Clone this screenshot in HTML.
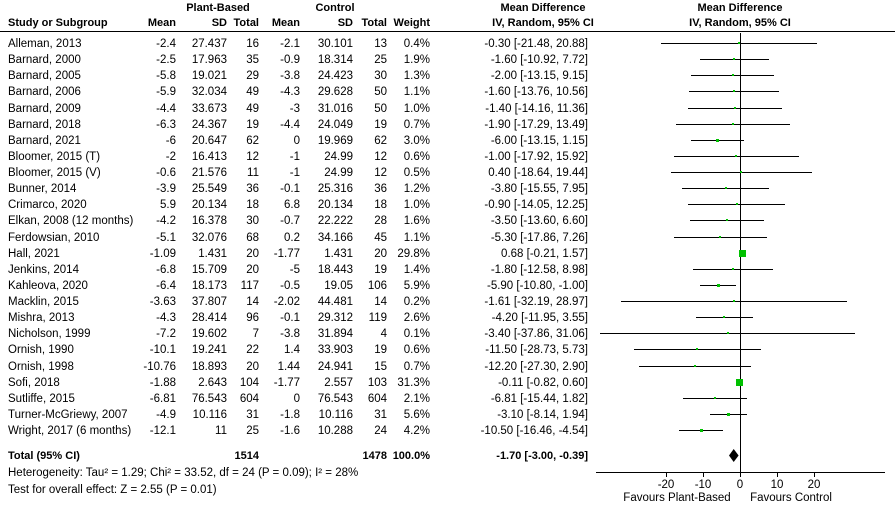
<!DOCTYPE html>
<html><head><meta charset="utf-8"><style>
html,body{margin:0;padding:0;background:#fff;}
svg{display:block;font-family:"Liberation Sans",Arial,sans-serif;font-size:11.5px;fill:#000;}
.b{font-weight:bold;font-size:11px;}
.r text{text-anchor:end;}
</style></head><body>
<svg width="895" height="512" viewBox="0 0 895 512" xmlns="http://www.w3.org/2000/svg">
<g class="b">
<text x="218" y="11" text-anchor="middle">Plant-Based</text>
<text x="335" y="11" text-anchor="middle">Control</text>
<text x="543" y="11" text-anchor="middle">Mean Difference</text>
<text x="740" y="11" text-anchor="middle">Mean Difference</text>
<text x="8" y="26">Study or Subgroup</text>
<text x="176" y="26" text-anchor="end">Mean</text>
<text x="227" y="26" text-anchor="end">SD</text>
<text x="259" y="26" text-anchor="end">Total</text>
<text x="300" y="26" text-anchor="end">Mean</text>
<text x="353" y="26" text-anchor="end">SD</text>
<text x="387" y="26" text-anchor="end">Total</text>
<text x="430" y="26" text-anchor="end">Weight</text>
<text x="543" y="26" text-anchor="middle">IV, Random, 95% CI</text>
<text x="740" y="26" text-anchor="middle">IV, Random, 95% CI</text>
</g>
<line x1="0" y1="31.5" x2="895" y2="31.5" stroke="#000" stroke-width="1"/>
<line x1="740.5" y1="33" x2="740.5" y2="472" stroke="#000"/>

<g id="names">
<text x="8" y="47">Alleman, 2013</text>
<text x="8" y="63">Barnard, 2000</text>
<text x="8" y="79">Barnard, 2005</text>
<text x="8" y="95">Barnard, 2006</text>
<text x="8" y="112">Barnard, 2009</text>
<text x="8" y="128">Barnard, 2018</text>
<text x="8" y="144">Barnard, 2021</text>
<text x="8" y="160">Bloomer, 2015 (T)</text>
<text x="8" y="176">Bloomer, 2015 (V)</text>
<text x="8" y="192">Bunner, 2014</text>
<text x="8" y="208">Crimarco, 2020</text>
<text x="8" y="224">Elkan, 2008 (12 months)</text>
<text x="8" y="241">Ferdowsian, 2010</text>
<text x="8" y="257">Hall, 2021</text>
<text x="8" y="273">Jenkins, 2014</text>
<text x="8" y="289">Kahleova, 2020</text>
<text x="8" y="305">Macklin, 2015</text>
<text x="8" y="321">Mishra, 2013</text>
<text x="8" y="337">Nicholson, 1999</text>
<text x="8" y="353">Ornish, 1990</text>
<text x="8" y="370">Ornish, 1998</text>
<text x="8" y="386">Sofi, 2018</text>
<text x="8" y="402">Sutliffe, 2015</text>
<text x="8" y="418">Turner-McGriewy, 2007</text>
<text x="8" y="434">Wright, 2017 (6 months)</text>
</g>
<g class="r">
<text x="176" y="47">-2.4</text><text x="176" y="63">-2.5</text><text x="176" y="79">-5.8</text><text x="176" y="95">-5.9</text><text x="176" y="112">-4.4</text><text x="176" y="128">-6.3</text><text x="176" y="144">-6</text><text x="176" y="160">-2</text><text x="176" y="176">-0.6</text><text x="176" y="192">-3.9</text><text x="176" y="208">5.9</text><text x="176" y="224">-4.2</text><text x="176" y="241">-5.1</text><text x="176" y="257">-1.09</text><text x="176" y="273">-6.8</text><text x="176" y="289">-6.4</text><text x="176" y="305">-3.63</text><text x="176" y="321">-4.3</text><text x="176" y="337">-7.2</text><text x="176" y="353">-10.1</text><text x="176" y="370">-10.76</text><text x="176" y="386">-1.88</text><text x="176" y="402">-6.81</text><text x="176" y="418">-4.9</text><text x="176" y="434">-12.1</text>
<text x="227" y="47">27.437</text><text x="227" y="63">17.963</text><text x="227" y="79">19.021</text><text x="227" y="95">32.034</text><text x="227" y="112">33.673</text><text x="227" y="128">24.367</text><text x="227" y="144">20.647</text><text x="227" y="160">16.413</text><text x="227" y="176">21.576</text><text x="227" y="192">25.549</text><text x="227" y="208">20.134</text><text x="227" y="224">16.378</text><text x="227" y="241">32.076</text><text x="227" y="257">1.431</text><text x="227" y="273">15.709</text><text x="227" y="289">18.173</text><text x="227" y="305">37.807</text><text x="227" y="321">28.414</text><text x="227" y="337">19.602</text><text x="227" y="353">19.241</text><text x="227" y="370">18.893</text><text x="227" y="386">2.643</text><text x="227" y="402">76.543</text><text x="227" y="418">10.116</text><text x="227" y="434">11</text>
<text x="259" y="47">16</text><text x="259" y="63">35</text><text x="259" y="79">29</text><text x="259" y="95">49</text><text x="259" y="112">49</text><text x="259" y="128">19</text><text x="259" y="144">62</text><text x="259" y="160">12</text><text x="259" y="176">11</text><text x="259" y="192">36</text><text x="259" y="208">18</text><text x="259" y="224">30</text><text x="259" y="241">68</text><text x="259" y="257">20</text><text x="259" y="273">20</text><text x="259" y="289">117</text><text x="259" y="305">14</text><text x="259" y="321">96</text><text x="259" y="337">7</text><text x="259" y="353">22</text><text x="259" y="370">20</text><text x="259" y="386">104</text><text x="259" y="402">604</text><text x="259" y="418">31</text><text x="259" y="434">25</text>
<text x="300" y="47">-2.1</text><text x="300" y="63">-0.9</text><text x="300" y="79">-3.8</text><text x="300" y="95">-4.3</text><text x="300" y="112">-3</text><text x="300" y="128">-4.4</text><text x="300" y="144">0</text><text x="300" y="160">-1</text><text x="300" y="176">-1</text><text x="300" y="192">-0.1</text><text x="300" y="208">6.8</text><text x="300" y="224">-0.7</text><text x="300" y="241">0.2</text><text x="300" y="257">-1.77</text><text x="300" y="273">-5</text><text x="300" y="289">-0.5</text><text x="300" y="305">-2.02</text><text x="300" y="321">-0.1</text><text x="300" y="337">-3.8</text><text x="300" y="353">1.4</text><text x="300" y="370">1.44</text><text x="300" y="386">-1.77</text><text x="300" y="402">0</text><text x="300" y="418">-1.8</text><text x="300" y="434">-1.6</text>
<text x="353" y="47">30.101</text><text x="353" y="63">18.314</text><text x="353" y="79">24.423</text><text x="353" y="95">29.628</text><text x="353" y="112">31.016</text><text x="353" y="128">24.049</text><text x="353" y="144">19.969</text><text x="353" y="160">24.99</text><text x="353" y="176">24.99</text><text x="353" y="192">25.316</text><text x="353" y="208">20.134</text><text x="353" y="224">22.222</text><text x="353" y="241">34.166</text><text x="353" y="257">1.431</text><text x="353" y="273">18.443</text><text x="353" y="289">19.05</text><text x="353" y="305">44.481</text><text x="353" y="321">29.312</text><text x="353" y="337">31.894</text><text x="353" y="353">33.903</text><text x="353" y="370">24.941</text><text x="353" y="386">2.557</text><text x="353" y="402">76.543</text><text x="353" y="418">10.116</text><text x="353" y="434">10.288</text>
<text x="387" y="47">13</text><text x="387" y="63">25</text><text x="387" y="79">30</text><text x="387" y="95">50</text><text x="387" y="112">50</text><text x="387" y="128">19</text><text x="387" y="144">62</text><text x="387" y="160">12</text><text x="387" y="176">12</text><text x="387" y="192">36</text><text x="387" y="208">18</text><text x="387" y="224">28</text><text x="387" y="241">45</text><text x="387" y="257">20</text><text x="387" y="273">19</text><text x="387" y="289">106</text><text x="387" y="305">14</text><text x="387" y="321">119</text><text x="387" y="337">4</text><text x="387" y="353">19</text><text x="387" y="370">15</text><text x="387" y="386">103</text><text x="387" y="402">604</text><text x="387" y="418">31</text><text x="387" y="434">24</text>
<text x="430" y="47">0.4%</text><text x="430" y="63">1.9%</text><text x="430" y="79">1.3%</text><text x="430" y="95">1.1%</text><text x="430" y="112">1.0%</text><text x="430" y="128">0.7%</text><text x="430" y="144">3.0%</text><text x="430" y="160">0.6%</text><text x="430" y="176">0.5%</text><text x="430" y="192">1.2%</text><text x="430" y="208">1.0%</text><text x="430" y="224">1.6%</text><text x="430" y="241">1.1%</text><text x="430" y="257">29.8%</text><text x="430" y="273">1.4%</text><text x="430" y="289">5.9%</text><text x="430" y="305">0.2%</text><text x="430" y="321">2.6%</text><text x="430" y="337">0.1%</text><text x="430" y="353">0.6%</text><text x="430" y="370">0.7%</text><text x="430" y="386">31.3%</text><text x="430" y="402">2.1%</text><text x="430" y="418">5.6%</text><text x="430" y="434">4.2%</text>
<text x="588" y="47">-0.30 [-21.48, 20.88]</text><text x="588" y="63">-1.60 [-10.92, 7.72]</text><text x="588" y="79">-2.00 [-13.15, 9.15]</text><text x="588" y="95">-1.60 [-13.76, 10.56]</text><text x="588" y="112">-1.40 [-14.16, 11.36]</text><text x="588" y="128">-1.90 [-17.29, 13.49]</text><text x="588" y="144">-6.00 [-13.15, 1.15]</text><text x="588" y="160">-1.00 [-17.92, 15.92]</text><text x="588" y="176">0.40 [-18.64, 19.44]</text><text x="588" y="192">-3.80 [-15.55, 7.95]</text><text x="588" y="208">-0.90 [-14.05, 12.25]</text><text x="588" y="224">-3.50 [-13.60, 6.60]</text><text x="588" y="241">-5.30 [-17.86, 7.26]</text><text x="588" y="257">0.68 [-0.21, 1.57]</text><text x="588" y="273">-1.80 [-12.58, 8.98]</text><text x="588" y="289">-5.90 [-10.80, -1.00]</text><text x="588" y="305">-1.61 [-32.19, 28.97]</text><text x="588" y="321">-4.20 [-11.95, 3.55]</text><text x="588" y="337">-3.40 [-37.86, 31.06]</text><text x="588" y="353">-11.50 [-28.73, 5.73]</text><text x="588" y="370">-12.20 [-27.30, 2.90]</text><text x="588" y="386">-0.11 [-0.82, 0.60]</text><text x="588" y="402">-6.81 [-15.44, 1.82]</text><text x="588" y="418">-3.10 [-8.14, 1.94]</text><text x="588" y="434">-10.50 [-16.46, -4.54]</text>
</g>
<g class="b">
<text x="8" y="459">Total (95% CI)</text>
<text x="259" y="459" text-anchor="end">1514</text>
<text x="387" y="459" text-anchor="end">1478</text>
<text x="430" y="459" text-anchor="end">100.0%</text>
<text x="588" y="459" text-anchor="end">-1.70 [-3.00, -0.39]</text>
</g>
<text x="8" y="476">Heterogeneity: Tau² = 1.29; Chi² = 33.52, df = 24 (P = 0.09); I² = 28%</text>
<text x="8" y="493">Test for overall effect: Z = 2.55 (P = 0.01)</text>

<g stroke="#000" stroke-width="1">
<line x1="661" x2="817" y1="43.5" y2="43.5"/>
<line x1="700" x2="769" y1="59.5" y2="59.5"/>
<line x1="691" x2="774" y1="75.5" y2="75.5"/>
<line x1="689" x2="779" y1="91.5" y2="91.5"/>
<line x1="688" x2="782" y1="108.5" y2="108.5"/>
<line x1="676" x2="790" y1="124.5" y2="124.5"/>
<line x1="691" x2="744" y1="140.5" y2="140.5"/>
<line x1="674" x2="799" y1="156.5" y2="156.5"/>
<line x1="671" x2="812" y1="172.5" y2="172.5"/>
<line x1="682" x2="769" y1="188.5" y2="188.5"/>
<line x1="688" x2="785" y1="204.5" y2="204.5"/>
<line x1="690" x2="764" y1="220.5" y2="220.5"/>
<line x1="674" x2="767" y1="237.5" y2="237.5"/>
<line x1="739" x2="746" y1="253.5" y2="253.5"/>
<line x1="693" x2="773" y1="269.5" y2="269.5"/>
<line x1="700" x2="736" y1="285.5" y2="285.5"/>
<line x1="621" x2="847" y1="301.5" y2="301.5"/>
<line x1="696" x2="753" y1="317.5" y2="317.5"/>
<line x1="600" x2="855" y1="333.5" y2="333.5"/>
<line x1="634" x2="761" y1="349.5" y2="349.5"/>
<line x1="639" x2="751" y1="366.5" y2="366.5"/>
<line x1="737" x2="742" y1="382.5" y2="382.5"/>
<line x1="683" x2="747" y1="398.5" y2="398.5"/>
<line x1="710" x2="747" y1="414.5" y2="414.5"/>
<line x1="679" x2="723" y1="430.5" y2="430.5"/>
</g>
<g fill="#00c000">
<rect x="738" y="42" width="2" height="2"/>
<rect x="733" y="58" width="2" height="2"/>
<rect x="732" y="74" width="2" height="2"/>
<rect x="733" y="90" width="2" height="2"/>
<rect x="734" y="107" width="2" height="2"/>
<rect x="732" y="123" width="2" height="2"/>
<rect x="716" y="139" width="3" height="3"/>
<rect x="735" y="155" width="2" height="2"/>
<rect x="740" y="171" width="2" height="2"/>
<rect x="725" y="187" width="2" height="2"/>
<rect x="736" y="203" width="2" height="2"/>
<rect x="726" y="219" width="2" height="2"/>
<rect x="719" y="236" width="2" height="2"/>
<rect x="739" y="250" width="7" height="7"/>
<rect x="732" y="268" width="2" height="2"/>
<rect x="717" y="284" width="3" height="3"/>
<rect x="733" y="300" width="2" height="2"/>
<rect x="723" y="316" width="2" height="2"/>
<rect x="727" y="332" width="2" height="2"/>
<rect x="696" y="348" width="2" height="2"/>
<rect x="694" y="365" width="2" height="2"/>
<rect x="736" y="379" width="7" height="7"/>
<rect x="714" y="397" width="2" height="2"/>
<rect x="727" y="413" width="3" height="3"/>
<rect x="700" y="429" width="3" height="3"/>
</g>
<polygon points="729,455.5 733.7,449 738.6,455.5 733.7,462" fill="#000"/>
<g stroke="#000">
<line x1="596" x2="885" y1="472.5" y2="472.5"/>
<line x1="666.5" x2="666.5" y1="472" y2="477"/>
<line x1="703.5" x2="703.5" y1="472" y2="477"/>
<line x1="740.5" x2="740.5" y1="472" y2="477"/>
<line x1="777.5" x2="777.5" y1="472" y2="477"/>
<line x1="814.5" x2="814.5" y1="472" y2="477"/>
</g>
<g text-anchor="middle">
<text x="666" y="488">-20</text>
<text x="703" y="488">-10</text>
<text x="740" y="488">0</text>
<text x="777" y="488">10</text>
<text x="814" y="488">20</text>
</g>
<text x="677" y="501" text-anchor="middle">Favours Plant-Based</text>
<text x="791" y="501" text-anchor="middle">Favours Control</text>
</svg>
</body></html>
